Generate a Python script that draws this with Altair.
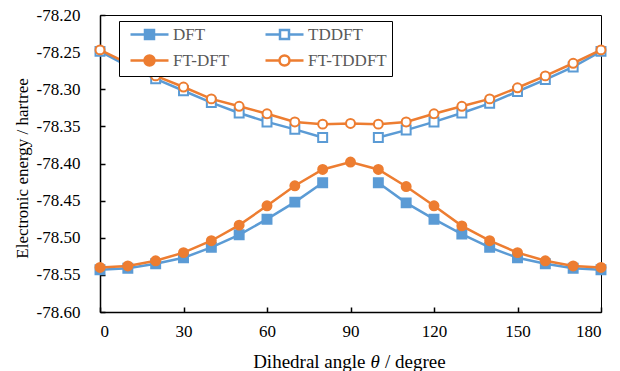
import altair as alt
import pandas as pd

# ---------------- data ----------------
angles = [0, 10, 20, 30, 40, 50, 60, 70, 80, 90, 100, 110, 120, 130, 140, 150, 160, 170, 180]
dft = [-78.543, -78.541, -78.535, -78.527, -78.513, -78.496, -78.475, -78.452, -78.426, None,
       -78.426, -78.453, -78.475, -78.495, -78.513, -78.527, -78.535, -78.541, -78.543]
tddft = [-78.249, -78.269, -78.286, -78.302, -78.318, -78.332, -78.344, -78.354, -78.365, None,
         -78.365, -78.355, -78.344, -78.332, -78.319, -78.303, -78.287, -78.270, -78.249]
ft_dft = [-78.540, -78.538, -78.531, -78.520, -78.504, -78.483, -78.457, -78.430, -78.408, -78.398,
          -78.408, -78.431, -78.457, -78.484, -78.504, -78.520, -78.531, -78.538, -78.540]
ft_tddft = [-78.247, -78.265, -78.282, -78.297, -78.313, -78.323, -78.333, -78.344, -78.347, -78.346,
            -78.347, -78.344, -78.333, -78.323, -78.313, -78.298, -78.282, -78.265, -78.247]

series_names = ["DFT", "TDDFT", "FT-DFT", "FT-TDDFT"]
series_values = [dft, tddft, ft_dft, ft_tddft]
x_ticks = [0, 30, 60, 90, 120, 150, 180]
y_ticks = [-78.60, -78.55, -78.50, -78.45, -78.40, -78.35, -78.30, -78.25, -78.20]
x_title_parts = ["Dihedral angle", "θ", "/ degree"]
y_title = "Electronic energy / hartree"

# ---------------- styles ----------------
BLUE = "#5B9BD5"
ORANGE = "#ED7D31"
stroke_cols = [BLUE, BLUE, ORANGE, ORANGE]
fill_cols = [BLUE, "white", ORANGE, "white"]
marker_shapes = ["square", "square", "circle", "circle"]
marker_sizes = [80, 80, 80, 80]
# legend symbols: marker with line stubs (custom paths)
legend_paths = [
    "M-0.4,0H2.5M4.3,0H7.2M2.5,-0.9H4.3V0.9H2.5Z",
    "M-0.4,0H2.5M4.3,0H7.2M2.5,-0.9H4.3V0.9H2.5Z",
    "M-0.4,0H2.4M4.4,0H7.2M2.4,0A1,1 0 1,1 4.4,0A1,1 0 1,1 2.4,0Z",
    "M-0.4,0H2.4M4.4,0H7.2M2.4,0A1,1 0 1,1 4.4,0A1,1 0 1,1 2.4,0Z",
]

FONT = "Liberation Serif"

rows = []
for name, vals in zip(series_names, series_values):
    gap = any(v is None for v in vals)
    for a, v in zip(angles, vals):
        if v is None:
            continue
        rows.append({"angle": a, "energy": v, "series": name,
                     "seg": (0 if a < 90 else 1) if gap else 0})
df = pd.DataFrame(rows)

x_enc = alt.X("angle:Q",
              scale=alt.Scale(domain=[0, 180], nice=False, zero=False),
              axis=alt.Axis(values=x_ticks, title=None, labelPadding=16,
                            tickSize={"expr": "-5"}, grid=False))
y_enc = alt.Y("energy:Q",
              scale=alt.Scale(domain=[-78.60, -78.20], nice=False, zero=False),
              axis=alt.Axis(values=y_ticks,
                            labelExpr="'-' + format(abs(datum.value), '.2f')",
                            title=y_title, titleFontSize=17,
                            titleX=-78, titleY=153, titleAngle=-90,
                            titleAlign="center", titleBaseline="middle",
                            labelPadding=25, tickSize={"expr": "-5"}, grid=False))

layers = []
for i, name in enumerate(series_names):
    base = alt.Chart(df).transform_filter(alt.datum.series == name)
    line = base.mark_line(color=stroke_cols[i], strokeWidth=2.5).encode(
        x=x_enc, y=y_enc, detail="seg:N")
    pts = base.mark_point(shape=marker_shapes[i], filled=True, fill=fill_cols[i],
                          stroke=stroke_cols[i], strokeWidth=2, size=marker_sizes[i],
                          opacity=1).encode(x=x_enc, y=y_enc)
    layers += [line, pts]

legend_layer = alt.Chart(df).transform_filter("false").mark_point(
    size=100, strokeWidth=2.5, opacity=1, filled=True).encode(
    x=x_enc, y=y_enc,
    shape=alt.Shape("series:N", scale=alt.Scale(domain=series_names, range=legend_paths),
                    legend=alt.Legend(title=None)),
    fill=alt.Fill("series:N", scale=alt.Scale(domain=series_names, range=fill_cols),
                  legend=alt.Legend(title=None)),
    stroke=alt.Stroke("series:N", scale=alt.Scale(domain=series_names, range=stroke_cols),
                      legend=alt.Legend(title=None)),
)

title_data = alt.Data(values=[{"k": 1}])
t1 = alt.Chart(title_data).mark_text(font=FONT, fontSize=19, align="right",
                                     baseline="alphabetic", color="black").encode(
    x=alt.value(265.5), y=alt.value(353), text=alt.value(x_title_parts[0]))
t2 = alt.Chart(title_data).mark_text(font=FONT, fontSize=19, fontStyle="italic",
                                     align="left", baseline="alphabetic", color="black").encode(
    x=alt.value(270.5), y=alt.value(353), text=alt.value(x_title_parts[1]))
t3 = alt.Chart(title_data).mark_text(font=FONT, fontSize=19, align="left",
                                     baseline="alphabetic", color="black").encode(
    x=alt.value(285), y=alt.value(353), text=alt.value(x_title_parts[2]))

chart = alt.layer(*layers, legend_layer, t1, t2, t3).properties(
    width=501, height=297,
    autosize=alt.AutoSizeParams(type="none"),
    padding={"left": 100, "top": 15, "right": 19, "bottom": 59},
).configure_view(
    stroke="black", strokeWidth=1
).configure_axis(
    domainColor="black", domainWidth=1.5, tickColor="black", tickWidth=1.5,
    labelFont=FONT, labelFontSize=17, labelColor="black",
    titleFont=FONT, titleFontSize=18.5, titleFontWeight="normal", titleColor="black",
).configure_legend(
    orient="none", legendX=19, legendY=6, direction="horizontal", columns=2,
    columnPadding=29, rowPadding=6, padding=5,
    labelFont=FONT, labelFontSize=17, labelColor="#595959", labelOffset=32,
    symbolSize=100, symbolStrokeWidth=2.5,
    strokeColor="black", fillColor="white",
)

chart.save("out.html", embed_options={"renderer": "svg", "actions": False})
